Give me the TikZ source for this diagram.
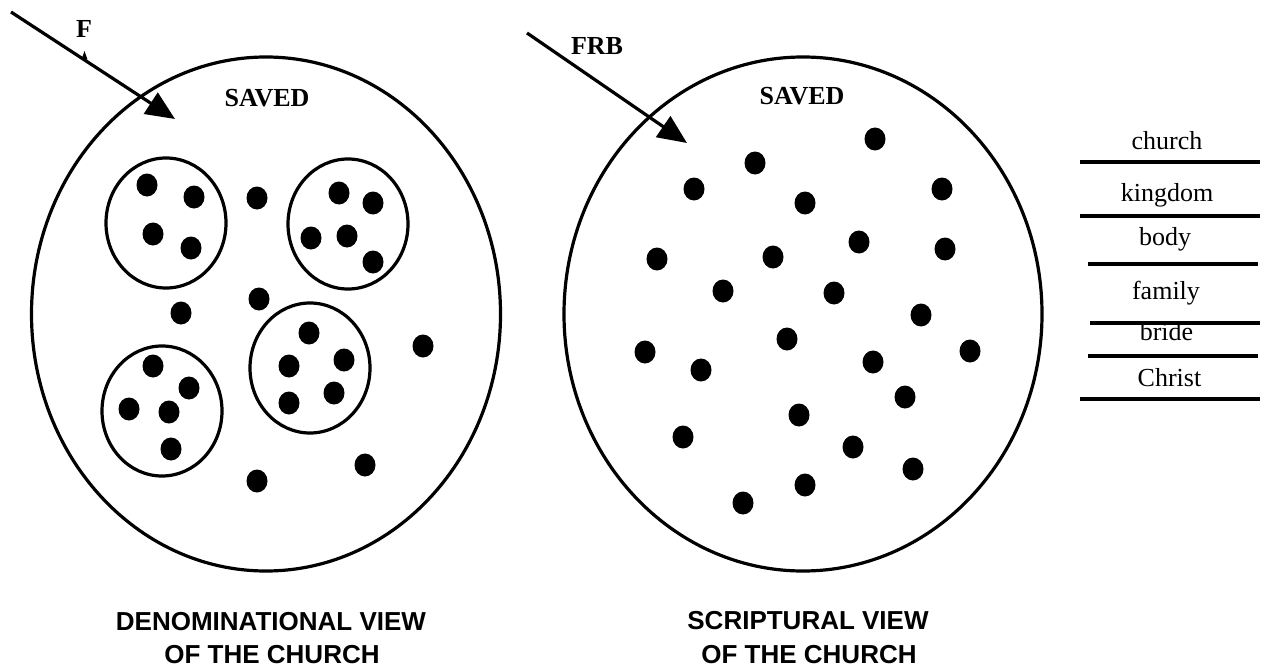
\documentclass[tikz,border=0pt]{standalone}
\usepackage{fontspec}
\setmainfont{Liberation Serif}
\newfontfamily\arialfont{Liberation Sans}
\usetikzlibrary{shapes.geometric,arrows.meta}
\tikzset{
  bigcirc/.style={draw, ellipse, line width=3.2pt, inner sep=0pt},
  group/.style={draw, ellipse, line width=3.2pt, inner sep=0pt, minimum width=120pt, minimum height=130pt},
  dot/.style={fill, ellipse, inner sep=0pt, minimum width=21pt, minimum height=23pt},
  boldlbl/.style={font=\fontsize{26}{30}\selectfont\bfseries, anchor=base, inner sep=0pt},
  word/.style={font=\fontsize{26}{30}\selectfont, anchor=base, inner sep=0pt},
  caption/.style={font=\arialfont\fontsize{26}{33}\selectfont\bfseries, anchor=base, inner sep=0pt},
  rule/.style={line width=3.2pt},
  pointer/.style={line width=3.2pt, -{Triangle[length=29pt,width=25pt]}}
}
\begin{document}
\begin{tikzpicture}[x=1pt,y=-1pt]
\useasboundingbox (0,0) rectangle (1268,666);

% big circles
\node[bigcirc, minimum width=469pt, minimum height=514pt] (L) at (266,314) {};
\node[bigcirc, minimum width=478pt, minimum height=514pt] (R) at (803,314) {};

% SAVED labels
\node[boldlbl] (savedL) at (267,106.5) {SAVED};
\node[boldlbl] (savedR) at (802,105) {SAVED};

% arrows
\coordinate (a1s) at (11,12);
\coordinate (a1e) at (175,119);
\draw[pointer] (a1s) -- (a1e);
\node[boldlbl] (F) at (84,37.5) {F};
\fill (81.5,59.5) -- (84.5,51) -- (87.5,59.5) -- cycle;

\coordinate (a2s) at (527,33);
\coordinate (a2e) at (687,143);
\draw[pointer] (a2s) -- (a2e);
\node[boldlbl] (FRB) at (597,55) {FRB};

% groups in left circle
\node[group] (gA) at (166,223) {};
\node[group] (gB) at (348,224) {};
\node[group] (gC) at (162,411) {};
\node[group] (gD) at (310,368) {};

% dots, left circle
\foreach \x/\y [count=\i] in {147/185,194/197,153/234,191/248,
  339/193,373/203,311/238,347/236,373/262,
  257/198,259/299,181/313,423/346,365/465,257/481,
  309/333,289/366,344/360,289/403,334/393,
  153/366,189/388,129/409,169/412,171/449}
  \node[dot] (l\i) at (\x,\y) {};

% dots, right circle
\foreach \x/\y [count=\i] in {875/139,755/163,694/189,942/189,805/203,
  859/242,945/249,657/259,773/257,723/291,834/293,921/315,787/339,
  645/352,970/351,701/370,873/362,905/397,799/415,683/437,853/447,
  913/469,805/485,743/503}
  \node[dot] (r\i) at (\x,\y) {};

% right-hand list
\node[word] (w1) at (1167,149.5) {church};
\node[word] (w2) at (1167,201.5) {kingdom};
\node[word] (w3) at (1165,245) {body};
\node[word] (w4) at (1166,299) {family};
\node[word] (w5) at (1166.5,340.5) {bride};
\node[word] (w6) at (1169.5,386.5) {Christ};

\coordinate (h1a) at (1080,162); \coordinate (h1b) at (1260,162);
\coordinate (h2a) at (1080,216); \coordinate (h2b) at (1260,216);
\coordinate (h3a) at (1088,264); \coordinate (h3b) at (1258,264);
\coordinate (h4a) at (1090,323); \coordinate (h4b) at (1260,323);
\coordinate (h5a) at (1088,356); \coordinate (h5b) at (1258,356);
\coordinate (h6a) at (1080,399); \coordinate (h6b) at (1260,399);
\foreach \k in {1,...,6} \draw[rule] (h\k a) -- (h\k b);

% captions
\node[caption] (capL1) at (271,630) {DENOMINATIONAL VIEW};
\node[caption] (capL2) at (272,663) {OF THE CHURCH};
\node[caption] (capR1) at (808,629) {SCRIPTURAL VIEW};
\node[caption] (capR2) at (809,663) {OF THE CHURCH};
\end{tikzpicture}
\end{document}
